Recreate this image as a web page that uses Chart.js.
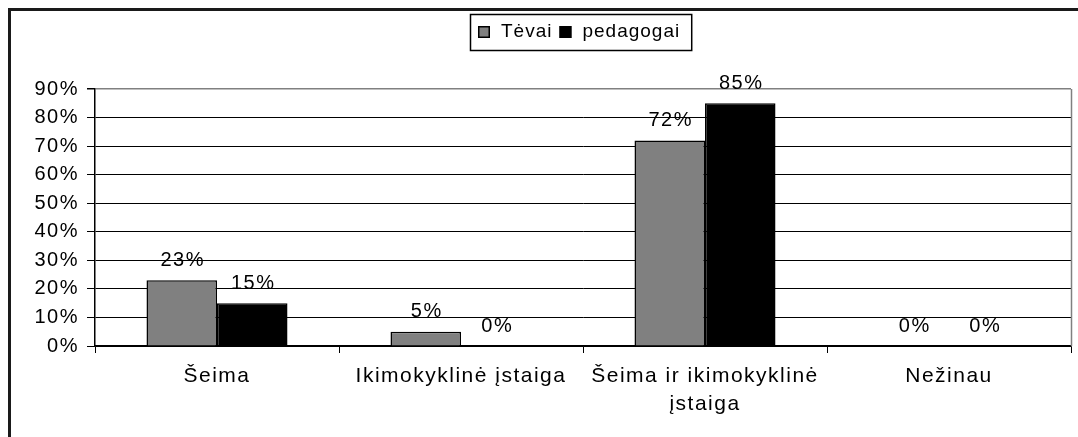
<!DOCTYPE html>
<html>
<head>
<meta charset="utf-8">
<script src="https://cdn.jsdelivr.net/npm/chart.js@4"></script>
<style>
html,body{margin:0;padding:0;background:#fff;}
#wrap{width:1078px;height:437px;position:relative;}
</style>
</head>
<body>
<div id="wrap"><canvas id="c" width="1078" height="437"></canvas></div>
<script>
const categories = [["Šeima"], ["Ikimokyklinė įstaiga"], ["Šeima ir ikimokyklinė", "įstaiga"], ["Nežinau"]];
const seriesNames = ["Tėvai", "pedagogai"];
const tevai = [23, 5, 72, 0];
const pedagogai = [15, 0, 85, 0];
const yMax = 90;
const yStep = 10;

const FONT = '"Liberation Sans", Arial, sans-serif';
const SPACING = '1.5px';
const colors = ['#808080', '#000000'];

const deco = {
  id: 'deco',
  beforeDraw(chart) {
    const ctx = chart.ctx;
    ctx.save();
    ctx.fillStyle = '#fff';
    ctx.fillRect(0, 0, chart.width, chart.height);
    ctx.restore();
    ctx.letterSpacing = SPACING;
  },
  afterDatasetsDraw(chart) {
    const ctx = chart.ctx;
    ctx.save();
    ctx.letterSpacing = SPACING;
    ctx.font = '20px ' + FONT;
    ctx.fillStyle = '#000';
    ctx.textAlign = 'center';
    ctx.textBaseline = 'middle';
    chart.data.datasets.forEach((ds, i) => {
      const meta = chart.getDatasetMeta(i);
      meta.data.forEach((bar, j) => {
        ctx.fillText(ds.data[j] + '%', bar.x + 1, bar.y - 20);
      });
    });
    ctx.restore();
  },
  afterDraw(chart) {
    const ctx = chart.ctx;
    const a = chart.chartArea;
    ctx.save();
    // right plot border
    ctx.strokeStyle = '#808080';
    ctx.lineWidth = 1.5;
    ctx.beginPath();
    ctx.moveTo(a.right + 0.5, a.top);
    ctx.lineTo(a.right + 0.5, a.bottom);
    ctx.stroke();
    // outer chart border
    ctx.fillStyle = '#1a1a1a';
    ctx.fillRect(8, 8, chart.width - 8, 3);
    ctx.fillRect(8, 8, 3, chart.height - 8);
    // legend
    ctx.letterSpacing = '1px';
    ctx.font = '19px ' + FONT;
    ctx.textBaseline = 'middle';
    ctx.textAlign = 'left';
    const boxL = 470, boxT = 14, boxH = 36;
    let x = boxL + 8;
    const cy = boxT + boxH / 2;
    const sq = 12;
    const items = [];
    chart.data.datasets.forEach((ds, i) => {
      items.push({x: x, label: ds.label, color: ds.backgroundColor});
      x += sq + 11;
      x += ctx.measureText(ds.label).width + 7;
    });
    const boxR = x + 4;
    ctx.fillStyle = '#fff';
    ctx.fillRect(boxL, boxT, boxR - boxL, boxH);
    ctx.strokeStyle = '#000';
    ctx.lineWidth = 1.5;
    ctx.strokeRect(boxL + 0.5, boxT + 0.5, boxR - boxL, boxH);
    items.forEach(it => {
      ctx.fillStyle = it.color;
      ctx.fillRect(it.x, cy - sq / 2, sq, sq);
      ctx.strokeStyle = '#000';
      ctx.lineWidth = 1.5;
      ctx.strokeRect(it.x + 0.75, cy - sq / 2 + 0.75, sq - 1.5, sq - 1.5);
      ctx.fillStyle = '#000';
      ctx.fillText(it.label, it.x + sq + 11, cy);
    });
    ctx.restore();
  }
};

new Chart(document.getElementById('c'), {
  type: 'bar',
  data: {
    labels: categories,
    datasets: [
      {label: seriesNames[0], data: tevai, backgroundColor: colors[0], borderColor: '#000', borderWidth: 1.5},
      {label: seriesNames[1], data: pedagogai, backgroundColor: colors[1], borderColor: '#000', borderWidth: 1.5}
    ]
  },
  options: {
    responsive: false,
    animation: false,
    devicePixelRatio: 1,
    layout: {padding: {top: 89, right: 7, left: 0, bottom: 0}},
    datasets: {bar: {categoryPercentage: 0.578, barPercentage: 1.0}},
    plugins: {legend: {display: false}, tooltip: {enabled: false}},
    scales: {
      x: {
        afterFit(s) { s.height = 91; },
        grid: {display: true, offset: true, drawOnChartArea: false, drawTicks: true, tickLength: 7, color: '#000', lineWidth: 1},
        border: {display: true, color: '#000', width: 1.5},
        ticks: {
          autoSkip: false, maxRotation: 0, minRotation: 0, padding: 9,
          color: '#000', font: {family: FONT, size: 21, lineHeight: 1.35}
        }
      },
      y: {
        min: 0, max: yMax,
        afterFit(s) { s.width = 95; },
        grid: {
          color: c => (c.tick && c.tick.value === yMax) ? '#808080' : '#000',
          lineWidth: c => (c.tick && c.tick.value === yMax) ? 1.5 : 1,
          tickColor: '#000', tickLength: 8, drawTicks: true
        },
        border: {display: true, color: '#000', width: 1.5},
        ticks: {
          stepSize: yStep, padding: 8, color: '#000',
          font: {family: FONT, size: 20},
          callback: v => v + '%'
        }
      }
    }
  },
  plugins: [deco]
});
</script>
</body>
</html>
